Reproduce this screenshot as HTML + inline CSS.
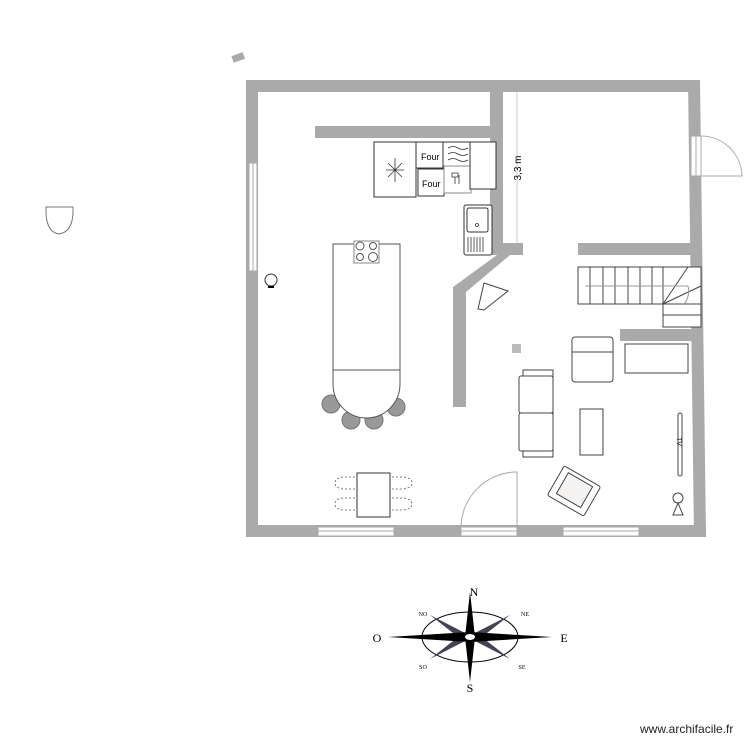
<!DOCTYPE html>
<html><head><meta charset="utf-8"><style>html,body{margin:0;padding:0;background:#fff}svg{display:block}</style></head>
<body>
<svg width="750" height="750" viewBox="0 0 750 750" xmlns="http://www.w3.org/2000/svg" font-family="Liberation Sans, sans-serif">
<rect width="750" height="750" fill="#fff"/>
<rect x="232" y="54" width="12" height="7" fill="#aaa" transform="rotate(-20 238 57)"/>
<path d="M46 207 L73 207 Q74 232 59 234 Q45 232 46 207 Z" fill="none" stroke="#777" stroke-width="1"/>
<g fill="#aaa">
<rect x="246" y="80" width="454" height="12"/>
<rect x="246" y="80" width="12" height="457"/>
<rect x="246" y="525" width="460" height="12"/>
<polygon points="688,80 700,80 706,537 694,537"/>
<rect x="490" y="80" width="13" height="175"/>
<rect x="315" y="126" width="188" height="12"/>
<rect x="490" y="243" width="33" height="12"/>
<polygon points="497,255 510,255 466,292 466,407 453,407 453,287"/>
<rect x="578" y="243" width="122" height="12"/>
<rect x="620" y="329" width="82" height="12"/>
<rect x="512" y="344" width="9" height="9" fill="#bbb"/>
</g>
<g fill="#fff" stroke="#aaa" stroke-width="1">
<rect x="249" y="163" width="8" height="108"/>
<rect x="318" y="527" width="76" height="9"/>
<rect x="563" y="527" width="76" height="9"/>
<rect x="461" y="527" width="56" height="9"/>
<rect x="691" y="136" width="10" height="40"/>
</g>
<g stroke="#aaa" fill="none" stroke-width="1">
<line x1="253" y1="163" x2="253" y2="271"/><line x1="318" y1="531" x2="394" y2="531"/><line x1="563" y1="531" x2="639" y2="531"/>
<line x1="461" y1="531" x2="517" y2="531"/><line x1="696" y1="136" x2="696" y2="176"/>
<path d="M517 527 L517 472 A56 56 0 0 0 461 527"/>
<path d="M701 136 A41 41 0 0 1 742 176 L701 176"/>
<line x1="517" y1="92" x2="517" y2="243" stroke="#ccc"/>
</g>
<text x="521" y="168" font-size="10" transform="rotate(-90 521 168)" text-anchor="middle">3,3 m</text>
<g fill="#fff" stroke="#333" stroke-width="1">
<rect x="374" y="142" width="42" height="55"/>
<rect x="416" y="142" width="27" height="26"/>
<rect x="418" y="169" width="26" height="27"/>
<rect x="443" y="142" width="27" height="24"/>
<rect x="444" y="166" width="27" height="27" stroke="#888"/>
<rect x="470" y="142" width="26" height="47"/>
<rect x="464" y="205" width="28" height="50" rx="2"/>
<rect x="467" y="208" width="21" height="24" rx="2"/>
</g>
<text x="421" y="160" font-size="9">Four</text>
<text x="422" y="187" font-size="9">Four</text>
<g stroke="#333" fill="none" stroke-width="0.8">
<path d="M386 170 L404 170 M395 158 L395 182 M388 163 L402 177 M402 163 L388 177"/>
<path d="M448 148 q5 -3 10 0 t10 0 M448 154 q5 -3 10 0 t10 0 M448 160 q5 -3 10 0 t10 0"/>
<path d="M452 173 h6 v4 h-6 z M455 177 v7 M459 175 v9"/>
<path d="M468 237 v15 M471 237 v15 M474 237 v15 M477 237 v15 M480 237 v15 M483 237 v15"/>
<circle cx="477" cy="225" r="1.5"/>
</g>
<g fill="#999" stroke="#777">
<circle cx="331" cy="404" r="9"/><circle cx="351" cy="420" r="9"/><circle cx="374" cy="420" r="9"/><circle cx="396" cy="407" r="9"/>
</g>
<g fill="#fff" stroke="#555" stroke-width="1">
<rect x="333" y="244" width="67" height="126"/>
<path d="M333 370 L400 370 L400 384 A33.5 34 0 0 1 333 384 Z"/>
<rect x="354" y="241" width="25" height="22" stroke="#888"/>
<circle cx="360" cy="246" r="4"/><circle cx="373" cy="246" r="3.5"/><circle cx="360" cy="257" r="3.5"/><circle cx="373" cy="257" r="4.5"/>
</g>
<circle cx="271" cy="280" r="6" fill="#fff" stroke="#333"/><rect x="268" y="286" width="6" height="2" fill="#000"/>
<rect x="357" y="473" width="33" height="44" fill="#fff" stroke="#333"/>
<g fill="none" stroke="#555" stroke-dasharray="2,2" stroke-width="0.8">
<path d="M355 477 L343 477 Q335 478 335 483 Q335 488 343 489 L355 489"/>
<path d="M355 498 L343 498 Q335 499 335 504 Q335 509 343 510 L355 510"/>
<path d="M392 477 L403 477 Q412 478 412 483 Q412 488 403 489 L392 489"/>
<path d="M392 498 L403 498 Q412 499 412 504 Q412 509 403 510 L392 510"/>
</g>
<g fill="#fff" stroke="#444" stroke-width="1">
<polygon points="484,283 508,291 484,310 478,309"/>
<rect x="523" y="370" width="30" height="87"/>
<rect x="519" y="376" width="34" height="37" rx="2"/>
<rect x="519" y="413" width="34" height="38" rx="2"/>
<rect x="572" y="337" width="41" height="45" rx="3"/>
<line x1="572" y1="352" x2="613" y2="352"/>
<rect x="580" y="409" width="23" height="46"/>
<rect x="625" y="344" width="63" height="29"/>
<rect x="678" y="413" width="4" height="63" rx="2"/>
<g transform="rotate(30 574 491)"><rect x="553" y="474" width="42" height="34" rx="2"/><rect x="560" y="478" width="28" height="24" fill="#f5f3f2"/></g>
<circle cx="678" cy="498" r="5"/>
</g>
<path d="M673 515 L678 503 L683 515 Z" fill="none" stroke="#444"/>
<text x="677" y="437" font-size="7" transform="rotate(90 677 437)">TV</text>
<g fill="#fff" stroke="#444" stroke-width="1">
<rect x="578" y="267" width="123" height="37"/>
<rect x="663" y="304" width="38" height="23"/>
</g>
<g stroke="#444" stroke-width="1">
<line x1="590" y1="267" x2="590" y2="304"/><line x1="603" y1="267" x2="603" y2="304"/><line x1="615" y1="267" x2="615" y2="304"/><line x1="628" y1="267" x2="628" y2="304"/><line x1="640" y1="267" x2="640" y2="304"/><line x1="652" y1="267" x2="652" y2="304"/><line x1="663" y1="267" x2="663" y2="304"/>
<line x1="663" y1="304" x2="688" y2="267"/><line x1="663" y1="304" x2="701" y2="286"/><line x1="663" y1="315" x2="701" y2="315"/>
<path d="M585 286 L688 286 M688 286 A20 20 0 0 1 684 304" stroke="#999" fill="none"/>
</g>
<g transform="translate(470,637)">
<ellipse cx="0" cy="0" rx="48" ry="25" fill="none" stroke="#000" stroke-width="1"/>
<g fill="#445">
<polygon points="-40,-22 -3,-3 -8,3"/><polygon points="40,-22 3,-3 8,3"/><polygon points="-40,22 -3,3 -8,-3"/><polygon points="40,22 3,3 8,-3"/>
</g>
<g fill="#000">
<polygon points="0,-45 5,0 0,45 -5,0"/><polygon points="-82,0 0,-5 82,0 0,5"/>
</g>
<ellipse cx="0" cy="0" rx="5" ry="3" fill="#fff"/>
</g>
<g font-family="Liberation Serif, serif" text-anchor="middle">
<text x="474" y="596" font-size="12">N</text>
<text x="470" y="692" font-size="12">S</text>
<text x="377" y="642" font-size="12">O</text>
<text x="564" y="642" font-size="12">E</text>
<text x="423" y="616" font-size="6">NO</text>
<text x="525" y="616" font-size="6">NE</text>
<text x="423" y="669" font-size="6">SO</text>
<text x="522" y="669" font-size="6">SE</text>
</g>
<text x="640" y="733" font-size="12" fill="#222">www.archifacile.fr</text>
</svg>
</body></html>
